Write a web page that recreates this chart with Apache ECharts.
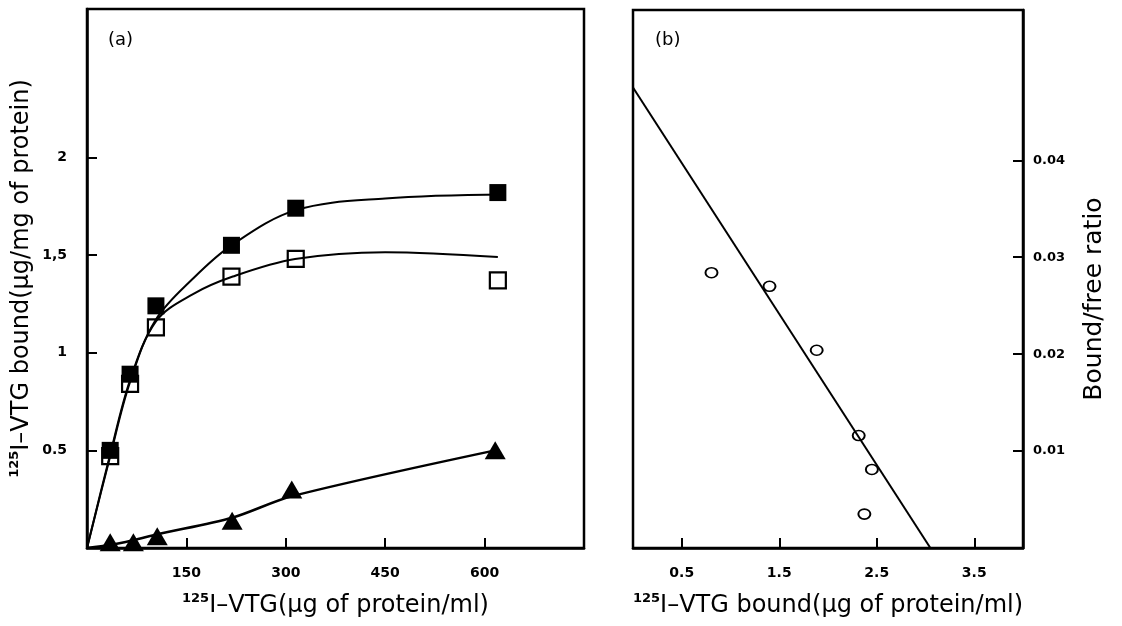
<!DOCTYPE html>
<html>
<head>
<meta charset="utf-8">
<script src="https://cdn.jsdelivr.net/npm/echarts@6/dist/echarts.min.js"></script>
<style>
  html, body { margin: 0; padding: 0; background: #fff; }
  #chart { width: 1122px; height: 626px; }
</style>
</head>
<body>
<div id="chart"></div>
<script>
// panel (a): measured points
const concA = [35, 65, 104, 218, 315, 620];
const boundTotal = [0.5, 0.89, 1.24, 1.55, 1.74, 1.82];     // filled squares
const boundSpecific = [0.47, 0.84, 1.13, 1.39, 1.48, 1.37]; // open squares
const concTri = [35, 70, 106, 219, 309, 616];
const boundNonSpec = [0.03, 0.03, 0.06, 0.14, 0.30, 0.50];  // triangles

// panel (a): fitted curves
const totalCurveX = [0, 35, 65, 104, 160, 218, 315, 450, 630];
const totalCurveY = [0, 0.48, 0.86, 1.17, 1.38, 1.55, 1.73, 1.79, 1.81];
const specCurveX = [0, 35, 65, 104, 160, 220, 314, 450, 620];
const specCurveY = [0, 0.47, 0.85, 1.16, 1.30, 1.39, 1.48, 1.515, 1.49];
const nonSpecLineX = [0, 35, 70, 106, 219, 309, 616];
const nonSpecLineY = [0, 0.015, 0.04, 0.07, 0.155, 0.265, 0.50];

const ticksA_X = [150, 300, 450, 600];
const ticksA_Y = [0.5, 1, 1.5, 2];

// panel (b): Scatchard plot
const boundB = [0.805, 1.40, 1.884, 2.315, 2.45, 2.373];
const ratioB = [0.0284, 0.027, 0.0204, 0.0116, 0.0081, 0.0035];
const fitLineX = [0, 3.05];
const fitLineY = [0.0475, 0];
const ticksB_X = [0.5, 1.5, 2.5, 3.5];
const ticksB_Y = [0.01, 0.02, 0.03, 0.04];

const zip = (xs, ys) => xs.map((x, i) => [x, ys[i]]);

const FONT = '"DejaVu Sans", "Liberation Sans", sans-serif';
const tickLabel = { fontFamily: FONT, fontWeight: 'bold', fontSize: 14, color: '#000' };
const nameStyle = {
  fontFamily: FONT, fontSize: 24, color: '#000',
  rich: {
    s: { fontFamily: FONT, fontSize: 13, fontWeight: 'bold', verticalAlign: 'top', lineHeight: 27, color: '#000' },
    t: { fontFamily: FONT, fontSize: 24, lineHeight: 27, color: '#000' }
  }
};
const axisLine = { show: true, onZero: false, lineStyle: { color: '#000', width: 2.5 } };
const tickStyle = { color: '#000', width: 2 };

let myChart = echarts.init(document.getElementById('chart'));
myChart.setOption({
  animation: false,
  backgroundColor: '#fff',
  title: [
    { text: '(a)', left: 103, top: 26, textStyle: { fontFamily: FONT, fontSize: 18, fontWeight: 'normal', color: '#000' } },
    { text: '(b)', left: 650, top: 26, textStyle: { fontFamily: FONT, fontSize: 18, fontWeight: 'normal', color: '#000' } }
  ],
  grid: [
    { left: 87, top: 9, width: 497, height: 539, show: true, borderColor: '#000', borderWidth: 2.5 },
    { left: 633, top: 10, width: 390, height: 538, show: true, borderColor: '#000', borderWidth: 2.5 }
  ],
  xAxis: [
    {
      gridIndex: 0, type: 'value', min: 0, max: 750,
      axisLine: axisLine,
      splitLine: { show: false },
      axisTick: { inside: true, length: 10, customValues: ticksA_X, lineStyle: tickStyle },
      axisLabel: { customValues: ticksA_X, margin: 18, ...tickLabel },
      name: '{s|125}{t|I–VTG(µg of protein/ml)}',
      nameLocation: 'middle', nameGap: 44, nameTextStyle: nameStyle
    },
    {
      gridIndex: 1, type: 'value', min: 0, max: 4,
      axisLine: axisLine,
      splitLine: { show: false },
      axisTick: { inside: true, length: 10, customValues: ticksB_X, lineStyle: tickStyle },
      axisLabel: { customValues: ticksB_X, margin: 18, ...tickLabel },
      name: '{s|125}{t|I–VTG bound(µg of protein/ml)}',
      nameLocation: 'middle', nameGap: 44, nameTextStyle: nameStyle
    }
  ],
  yAxis: [
    {
      gridIndex: 0, type: 'value', min: 0, max: 2.76,
      axisLine: axisLine,
      splitLine: { show: false },
      axisTick: { inside: true, length: 10, customValues: ticksA_Y, lineStyle: tickStyle },
      axisLabel: {
        customValues: ticksA_Y, margin: 20, ...tickLabel,
        formatter: v => (v === 1.5 ? '1,5' : String(v))
      },
      name: '{s|125}{t|I–VTG bound(µg/mg of protein)}',
      nameLocation: 'middle', nameGap: 52, nameTextStyle: nameStyle
    },
    {
      gridIndex: 1, type: 'value', position: 'right', min: 0, max: 0.0555,
      axisLine: axisLine,
      splitLine: { show: false },
      axisTick: { inside: true, length: 10, customValues: ticksB_Y, lineStyle: tickStyle },
      axisLabel: {
        customValues: ticksB_Y, margin: 10, ...tickLabel, fontSize: 13,
        formatter: v => v.toFixed(2)
      },
      name: 'Bound/free ratio',
      nameLocation: 'middle', nameGap: 59,
      nameTextStyle: { fontFamily: FONT, fontSize: 25, color: '#000', padding: [0, 40, 0, 0] }
    }
  ],
  series: [
    {
      type: 'line', xAxisIndex: 0, yAxisIndex: 0, smooth: 0.35, symbol: 'none',
      lineStyle: { color: '#000', width: 2 },
      data: zip(totalCurveX, totalCurveY)
    },
    {
      type: 'line', xAxisIndex: 0, yAxisIndex: 0, smooth: 0.35, symbol: 'none',
      lineStyle: { color: '#000', width: 2 },
      data: zip(specCurveX, specCurveY)
    },
    {
      type: 'line', xAxisIndex: 0, yAxisIndex: 0, smooth: 0.3, symbol: 'none',
      lineStyle: { color: '#000', width: 2.5 },
      data: zip(nonSpecLineX, nonSpecLineY)
    },
    {
      type: 'scatter', xAxisIndex: 0, yAxisIndex: 0, symbol: 'rect', symbolSize: 16,
      itemStyle: { color: '#fff', borderColor: '#000', borderWidth: 2.2, opacity: 1 },
      data: zip(concA, boundSpecific)
    },
    {
      type: 'scatter', xAxisIndex: 0, yAxisIndex: 0, symbol: 'rect', symbolSize: 17,
      itemStyle: { color: '#000', opacity: 1 },
      data: zip(concA, boundTotal)
    },
    {
      type: 'scatter', xAxisIndex: 0, yAxisIndex: 0, symbol: 'triangle', symbolSize: [21, 18],
      itemStyle: { color: '#000', opacity: 1 },
      data: zip(concTri, boundNonSpec)
    },
    {
      type: 'line', xAxisIndex: 1, yAxisIndex: 1, symbol: 'none',
      lineStyle: { color: '#000', width: 2 },
      data: zip(fitLineX, fitLineY)
    },
    {
      type: 'scatter', xAxisIndex: 1, yAxisIndex: 1, symbol: 'circle', symbolSize: [12, 10],
      itemStyle: { color: '#fff', borderColor: '#000', borderWidth: 1.8, opacity: 1 },
      data: zip(boundB, ratioB)
    }
  ]
});
</script>
</body>
</html>
